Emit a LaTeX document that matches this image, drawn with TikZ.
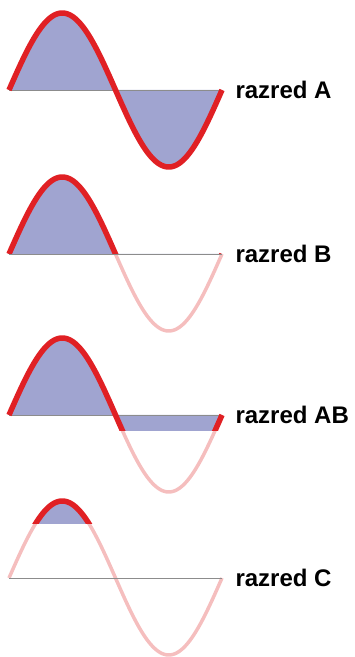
\documentclass[tikz,border=0pt]{standalone}
\usepackage{fontspec}
\setmainfont{Liberation Sans}
\definecolor{wavered}{RGB}{224,32,36}
\definecolor{wavepink}{RGB}{245,190,190}
\definecolor{wavefill}{RGB}{160,164,208}
\tikzset{wave/.style={domain=0:360, samples=120}}
\begin{document}
\begin{tikzpicture}[x=1pt, y=1pt, line join=round, font=\fontsize{24}{24}\selectfont\bfseries]
\useasboundingbox (0,0) rectangle (355,657);
\foreach \yb/\lev/\name in {567/-90/A, 403/0/B, 242/-16/AB, 79/54/C}{
\begin{scope}[yshift=\yb]
\begin{scope}
\clip (0,\lev) rectangle (240,90);
\fill[wavefill] plot[wave] ({9+\x/360*213}, {77*sin(\x)}) -- cycle;
\end{scope}
\draw[wavepink, line width=3.5pt] plot[wave] ({9+\x/360*213}, {77*sin(\x)});
\draw[black!45, line width=0.8pt] (9,0) -- (222,0);
\begin{scope}
\clip (0,\lev) rectangle (240,90);
\draw[wavered, line width=5.5pt] plot[wave] ({9+\x/360*213}, {77*sin(\x)});
\end{scope}
\node[anchor=west] (lab\name) at (232,0) {razred \name};
\end{scope}}
\end{tikzpicture}
\end{document}
